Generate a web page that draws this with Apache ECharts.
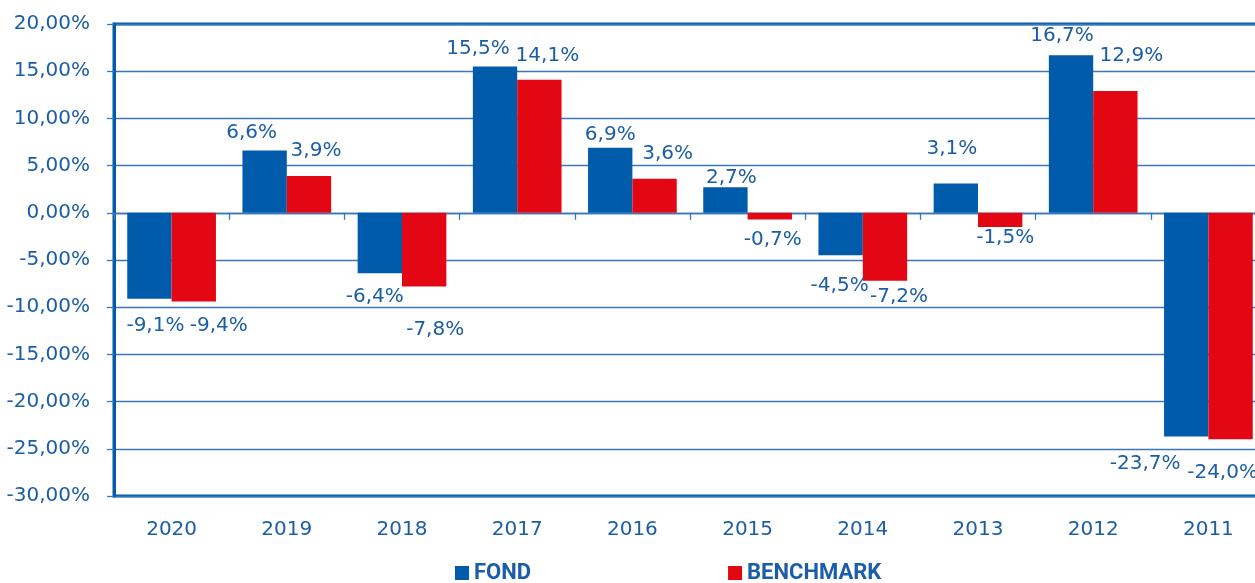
<!DOCTYPE html>
<html>
<head>
<meta charset="utf-8">
<title>FOND vs BENCHMARK</title>
<script src="https://cdn.jsdelivr.net/npm/echarts@6/dist/echarts.min.js"></script>
<style>
  html, body { margin: 0; padding: 0; background: #fff; }
  #chart { width: 1255px; height: 583px; }
</style>
</head>
<body>
<div id="chart"></div>
<script>
// data
var years = ['2020', '2019', '2018', '2017', '2016', '2015', '2014', '2013', '2012', '2011'];
var fond = [-9.1, 6.6, -6.4, 15.5, 6.9, 2.7, -4.5, 3.1, 16.7, -23.7];
var benchmark = [-9.4, 3.9, -7.8, 14.1, 3.6, -0.7, -7.2, -1.5, 12.9, -24.0];
var yTicks = [-30, -25, -20, -15, -10, -5, 0, 5, 10, 15, 20];

// label nudges (px) - the original had hand placed labels
var fondLabelShift = [[6, 17], [-13, -8], [-5, 14], [-17, -8], [0, -3], [6, 0], [-1, 21], [-4, -25], [-9, -9], [-41, 17]];
var benchLabelShift = [[25, 14], [7, -15], [11, 33], [8, -14], [13, -15], [3, 10], [14, 6], [5, 1], [16, -25], [-8, 23]];

var BLUE = '#005BAA';
var RED = '#E30613';
var TEXT = '#1B5EA7';
var GRIDLINE = '#3A77BA';
var NUM_FONT = 'DejaVu Sans';

function pct(v, digits) {
  return v.toFixed(digits).replace('.', ',') + '%';
}

function buildItems(values, shifts) {
  return values.map(function (v, i) {
    return {
      value: v,
      label: {
        position: v >= 0 ? 'top' : 'bottom',
        offset: shifts[i]
      }
    };
  });
}

var chart = echarts.init(document.getElementById('chart'));
chart.setOption({
  animation: false,
  textStyle: { fontFamily: NUM_FONT },
  grid: {
    left: 114,
    right: -11,
    top: 24,
    bottom: 87,
    outerBoundsMode: 'none',
    containLabel: false,
    show: true,
    borderWidth: 3,
    borderColor: BLUE
  },
  legend: {
    data: ['FOND', 'BENCHMARK'],
    left: 455,
    top: 562,
    padding: 0,
    icon: 'rect',
    itemWidth: 14,
    itemHeight: 14,
    itemGap: 197,
    textStyle: {
      fontFamily: 'Roboto',
      fontWeight: 'bold',
      fontSize: 22,
      color: TEXT
    }
  },
  xAxis: [{
    // year labels under the plot
    type: 'category',
    data: years,
    position: 'bottom',
    axisLine: { show: false, onZero: false },
    axisTick: { show: false },
    axisLabel: {
      margin: 24,
      fontSize: 20,
      color: TEXT,
      fontFamily: NUM_FONT
    }
  }, {
    // zero line with the small ticks
    type: 'category',
    data: years,
    position: 'bottom',
    axisLine: { show: true, onZero: true, lineStyle: { color: GRIDLINE, width: 1.3 } },
    axisTick: { show: true, length: 7, lineStyle: { color: GRIDLINE, width: 1.3 } },
    axisLabel: { show: false }
  }],
  yAxis: {
    type: 'value',
    min: yTicks[0],
    max: yTicks[yTicks.length - 1],
    interval: 5,
    axisLine: { show: true, lineStyle: { color: BLUE, width: 3 } },
    axisTick: { show: true, length: 7, lineStyle: { color: GRIDLINE, width: 1.3 } },
    axisLabel: {
      margin: 24,
      fontSize: 20,
      color: TEXT,
      fontFamily: NUM_FONT,
      formatter: function (v) { return pct(v, 2); }
    },
    splitLine: { show: true, lineStyle: { color: GRIDLINE, width: 1.3 } }
  },
  series: [{
    name: 'FOND',
    type: 'bar',
    barGap: 0,
    barCategoryGap: '23%',
    itemStyle: { color: BLUE },
    label: {
      show: true,
      distance: 0,
      fontSize: 20,
      color: TEXT,
      fontFamily: NUM_FONT,
      formatter: function (p) { return pct(p.value, 1); }
    },
    data: buildItems(fond, fondLabelShift)
  }, {
    name: 'BENCHMARK',
    type: 'bar',
    barGap: 0,
    barCategoryGap: '23%',
    itemStyle: { color: RED },
    label: {
      show: true,
      distance: 0,
      fontSize: 20,
      color: TEXT,
      fontFamily: NUM_FONT,
      formatter: function (p) { return pct(p.value, 1); }
    },
    data: buildItems(benchmark, benchLabelShift)
  }]
});
</script>
</body>
</html>
